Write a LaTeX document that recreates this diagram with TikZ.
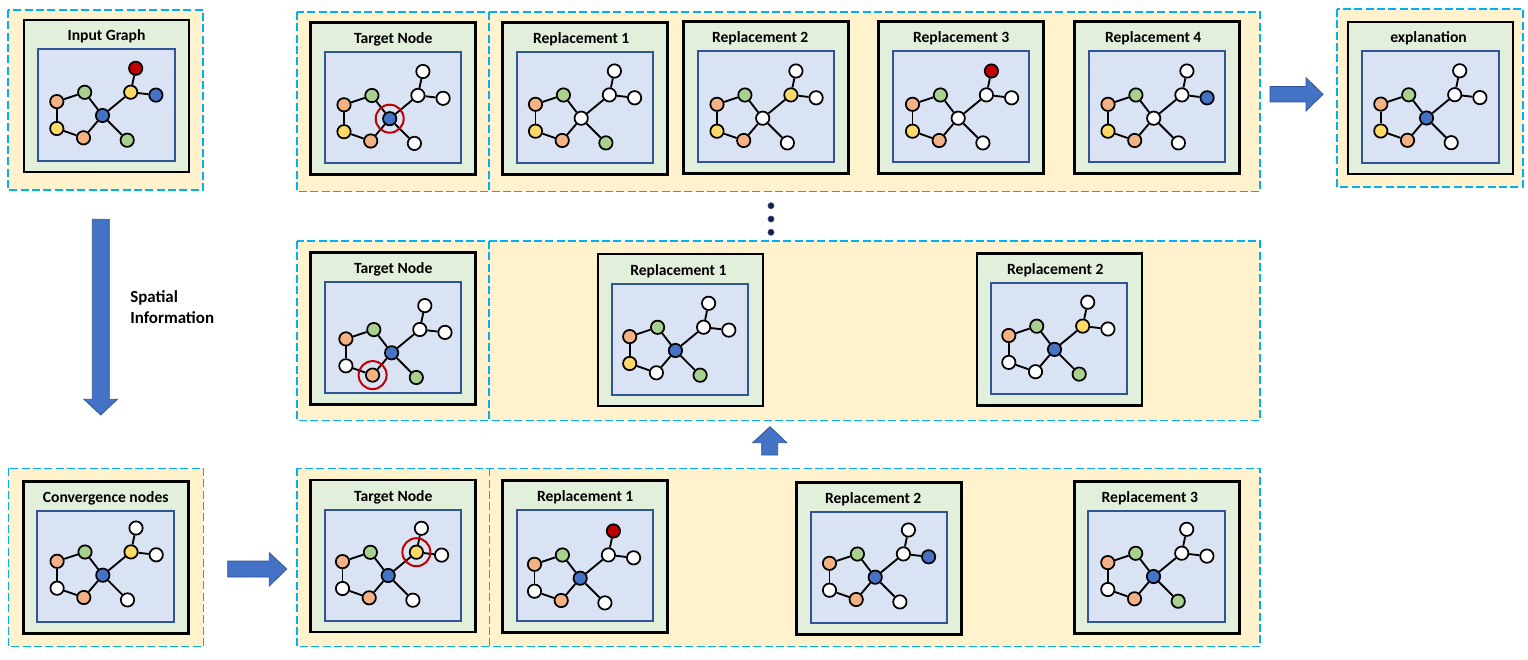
\documentclass[tikz,border=0pt]{standalone}
\usepackage{fontspec}
\setmainfont{Carlito}
\usetikzlibrary{calc}
\definecolor{dashc}{RGB}{0,176,240}
\definecolor{ybg}{RGB}{255,242,204}
\definecolor{gbg}{RGB}{226,239,218}
\definecolor{bbg}{RGB}{218,227,243}
\definecolor{bbd}{RGB}{47,85,151}
\definecolor{aO}{RGB}{244,177,131}
\definecolor{aG}{RGB}{169,209,142}
\definecolor{aY}{RGB}{255,217,102}
\definecolor{aB}{RGB}{68,114,196}
\definecolor{aR}{RGB}{192,0,0}
\definecolor{aW}{RGB}{255,255,255}
\definecolor{dotc}{RGB}{25,30,60}
\tikzset{
  atom/.style={circle, draw=black, line width=1.3pt, minimum size=10pt, inner sep=0pt},
  bond/.style={line width=1.4pt},
  outerbox/.style={draw=dashc, fill=ybg, dash pattern=on 6pt off 2.5pt, line width=0.8pt},
  divline/.style={draw=dashc, dash pattern=on 6pt off 2.5pt, line width=0.8pt},
  greenbox/.style={draw=black, fill=gbg, line width=1.9pt, minimum width=123.75pt, minimum height=114pt, anchor=north west, inner sep=0pt, outer sep=0pt},
  bluebox/.style={draw=bbd, fill=bbg, line width=1.5pt, minimum width=102.4pt, minimum height=83.25pt, anchor=north west, inner sep=0pt, outer sep=0pt},
  ttl/.style={font=\bfseries\fontsize{11.7}{13}\selectfont, anchor=base, inner sep=0pt},
  sidetxt/.style={font=\bfseries\fontsize{12.7}{15}\selectfont, anchor=base west, inner sep=0pt},
  ring/.style={circle, draw=aR, line width=1.5pt, minimum size=21pt, inner sep=0pt},
  blockarrow/.style={fill=aB, draw=bbd, line width=0.6pt},
  dotn/.style={circle, fill=dotc, draw=bbd, line width=0.5pt, minimum size=4.6pt, inner sep=0pt},
}
\def\parsecols#1/#2/#3/#4/#5/#6/#7/#8/#9\relax{%
  \def\cA{a#1}\def\cB{a#2}\def\cC{a#3}\def\cD{a#4}\def\cE{a#5}%
  \def\cF{a#6}\def\cG{a#7}\def\cH{a#8}\def\cI{a#9}}
% #1 name, #2 gx, #3 gy, #4 title, #5 colours, #6 dx, #7 dy, #8 title dx
\newcommand\panel[8]{%
  \node[greenbox] (#1) at (#2,#3) {};
  \node[bluebox] (#1in) at (#2+14,#3+29.5) {};
  \node[ttl] (#1t) at (#2+82.5+#8,#3+21) {#4};
  \begin{scope}[shift={(#2+14+#6,#3+29.5+#7)}]
    \parsecols#5\relax
    \node[atom,fill=\cA] (#1A) at (97.7,18.8) {};
    \node[atom,fill=\cB] (#1B) at (92.7,42.7) {};
    \node[atom,fill=\cC] (#1C) at (117.9,45.6) {};
    \node[atom,fill=\cD] (#1D) at (46.7,42.8) {};
    \node[atom,fill=\cE] (#1E) at (18.8,52.1) {};
    \node[atom,fill=\cF] (#1F) at (18.8,79) {};
    \node[atom,fill=\cG] (#1G) at (45.5,88.3) {};
    \node[atom,fill=\cH] (#1H) at (64.5,66) {};
    \node[atom,fill=\cI] (#1I) at (89.2,90.7) {};
    \draw[bond] (#1E) -- (#1D);
    \draw[bond] (#1E) -- (#1F);
    \draw[bond] (#1F) -- (#1G);
    \draw[bond] (#1G) -- (#1H);
    \draw[bond] (#1D) -- (#1H);
    \draw[bond] (#1H) -- (#1B);
    \draw[bond] (#1H) -- (#1I);
    \draw[bond] (#1B) -- (#1A);
    \draw[bond] (#1B) -- (#1C);
  \end{scope}}
\begin{document}
\begin{tikzpicture}[x=0.75pt,y=-0.75pt]
\useasboundingbox (0,0) rectangle (1528,660);
% dashed containers
\draw[outerbox] (8,10) rectangle (203,190);
\draw[outerbox] (1337,9) rectangle (1523,187);
\draw[outerbox] (297,12) rectangle (1260,191.5);
\draw[divline] (489,12) -- (489,191.5);
\draw[outerbox] (297,241) rectangle (1260,420.5);
\draw[divline] (489,241) -- (489,420.5);
\draw[outerbox] (8.3,468.3) rectangle (203.3,646.7);
\draw[outerbox] (297,468.3) rectangle (1260,646.7);
\draw[divline] (489.3,468.3) -- (489.3,646.7);
% panels
\panel{p1}{24}{20}{Input Graph}{R/Y/B/G/O/Y/O/B/G}{0}{0}{0}
\panel{p2}{310.7}{22.7}{Target Node}{W/W/W/G/O/Y/O/B/W}{0.5}{0.5}{0}
\panel{p3}{502.7}{22.7}{Replacement 1}{W/W/W/G/O/Y/O/W/G}{0}{0}{-4}
\panel{p4}{683.7}{21.7}{Replacement 2}{W/Y/W/G/O/Y/O/W/W}{0.5}{1}{-6}
\panel{p5}{878.7}{21.7}{Replacement 3}{R/W/W/G/O/Y/O/W/W}{1}{1}{0}
\panel{p6}{1074.7}{21.7}{Replacement 4}{W/W/B/G/O/Y/O/W/W}{0.5}{1}{-4}
\panel{p7}{1348}{22}{explanation}{W/W/W/G/O/Y/O/B/W}{0}{0.5}{-2}
\panel{p8}{310.7}{252.7}{Target Node}{W/W/W/G/O/W/O/B/G}{2.4}{4.6}{0}
\panel{p9}{597.9}{254}{Replacement 1}{W/W/W/G/O/Y/W/B/G}{-1}{1}{-2}
\panel{p10}{976.8}{253.3}{Replacement 2}{W/Y/W/G/O/W/W/B/G}{-0.8}{0.6}{-4}
\panel{p11}{23.3}{481.7}{Convergence nodes}{W/Y/W/G/O/W/O/B/W}{1}{-2}{0}
\panel{p12}{310.7}{480}{Target Node}{W/Y/W/G/O/W/O/B/W}{-1}{0}{0}
\panel{p13}{502.7}{480.7}{Replacement 1}{R/W/W/G/O/W/O/B/W}{-1}{2}{0}
\panel{p14}{796.7}{482.7}{Replacement 2}{W/W/B/G/O/W/O/B/W}{0}{-1}{-6}
\panel{p15}{1074.3}{481.7}{Replacement 3}{W/W/W/G/O/W/O/B/G}{0.7}{-0.7}{-7}
% target rings
\node[ring] (r1) at (p2H) {};
\node[ring] (r2) at (p8G) {};
\node[ring] (r3) at (p12B) {};
% block arrows
\draw[blockarrow] (92.3,219.3) -- (109.3,219.3) -- (109.3,399.3) -- (117.3,399.3) -- (100.8,415) -- (84,399.3) -- (92.3,399.3) -- cycle;
\draw[blockarrow] (227.7,561) -- (269.3,561) -- (269.3,552.7) -- (286.7,569) -- (269.3,586) -- (269.3,577) -- (227.7,577) -- cycle;
\draw[blockarrow] (1270,86.5) -- (1306,86.5) -- (1306,77.7) -- (1323,94.3) -- (1306,111) -- (1306,102) -- (1270,102) -- cycle;
\draw[blockarrow] (761.7,455) -- (761.7,442.7) -- (752.7,442.7) -- (770,426.7) -- (786.7,442.7) -- (777.7,442.7) -- (777.7,455) -- cycle;
% side text
\node[sidetxt] (s1) at (130,302.5) {Spatial};
\node[sidetxt] (s2) at (130,323.5) {Information};
% dots
\node[dotn] (d1) at (771,205.7) {};
\node[dotn] (d2) at (771,219) {};
\node[dotn] (d3) at (771,232.3) {};
\end{tikzpicture}
\end{document}
